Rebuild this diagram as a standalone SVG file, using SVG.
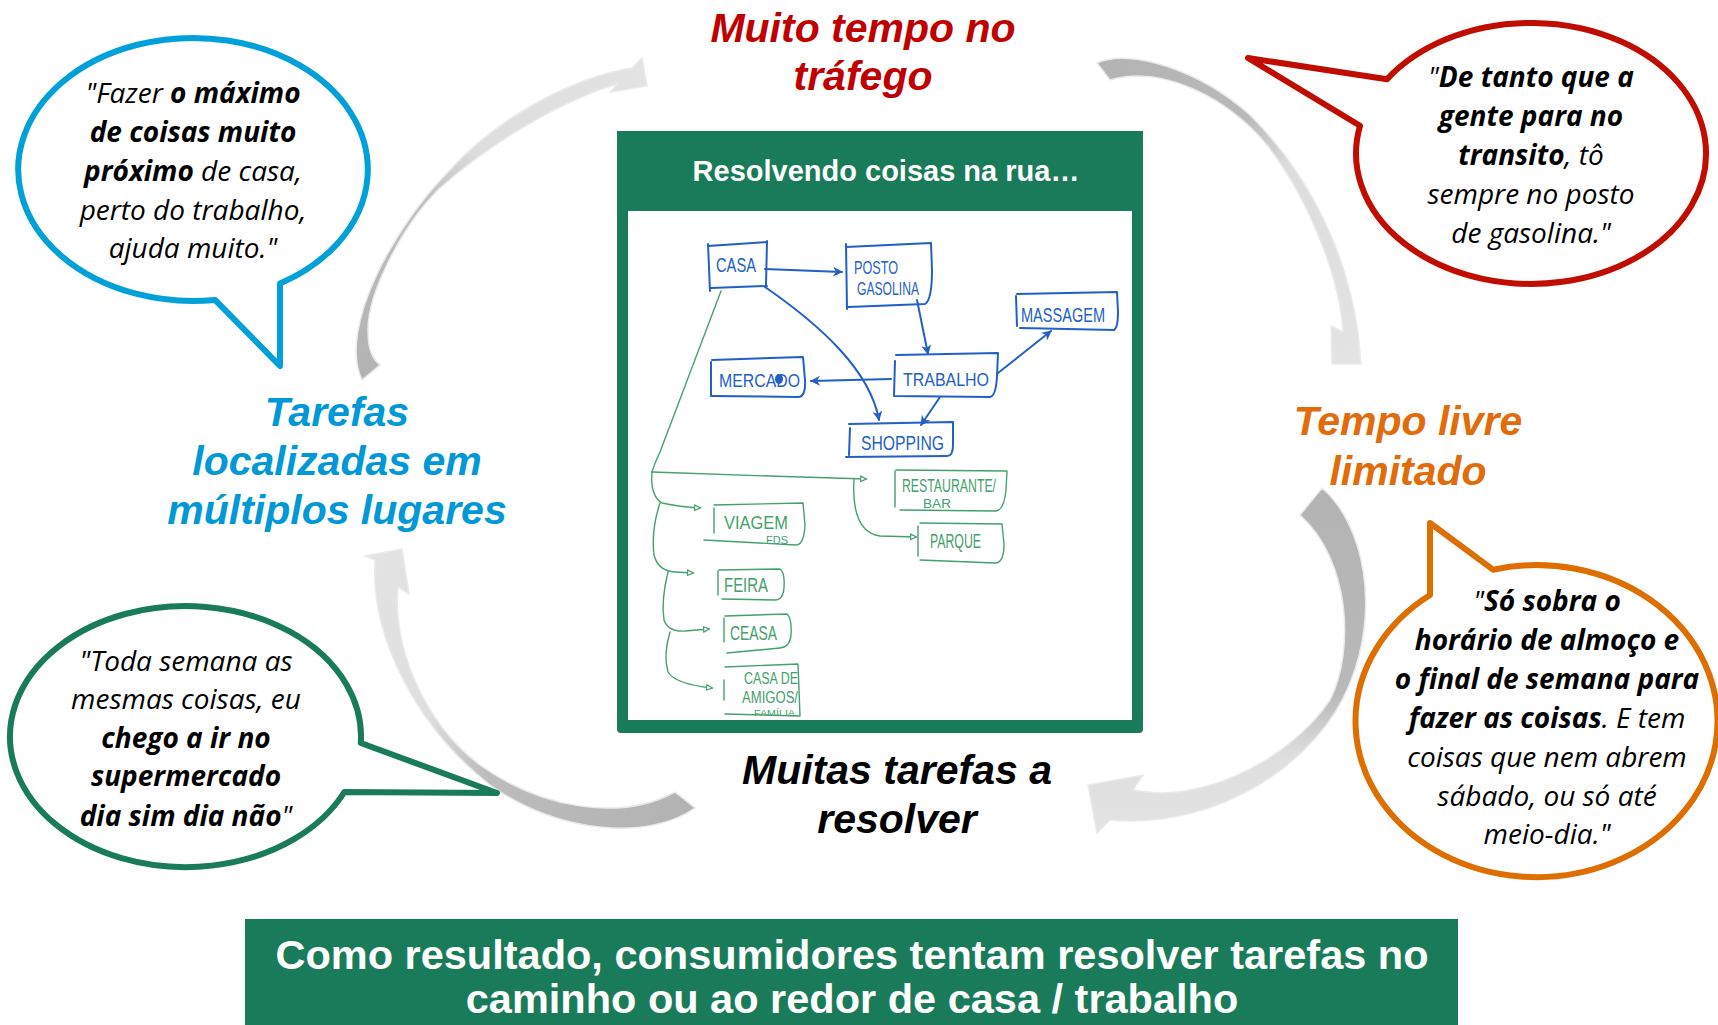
<svg xmlns="http://www.w3.org/2000/svg" width="1718" height="1025" viewBox="0 0 1718 1025">
<style>
.q{font-family:"Open Sans","Noto Sans","Liberation Sans",sans-serif;font-size:28px;font-style:italic;fill:#000;text-anchor:middle}
.b{font-weight:bold}
.lab{font-family:"Liberation Sans",Arial,sans-serif;font-size:41px;font-weight:bold;font-style:italic;text-anchor:middle}
.bub{fill:#fff;stroke-width:6;stroke-linejoin:round}
.sk{fill:none;stroke-linecap:round;stroke-linejoin:round}
.skb{stroke:#235FC8;stroke-width:2}
.skg{stroke:#46A06E;stroke-width:1.4}
.tb{font-family:"Liberation Sans",Arial,sans-serif;fill:#235FC8}
.tg{font-family:"Liberation Sans",Arial,sans-serif;fill:#46A06E}
.arr{stroke:#EAEAEA;stroke-width:1.5}
.ban{font-family:"Liberation Sans",Arial,sans-serif;font-weight:bold;fill:#fff;text-anchor:middle}
</style>
<defs>
<linearGradient id="g1" gradientUnits="userSpaceOnUse" x1="370" y1="380" x2="640" y2="60">
<stop offset="0" stop-color="#B3B3B3"/><stop offset="0.42" stop-color="#BEBEBE"/><stop offset="0.58" stop-color="#DDDDDD"/><stop offset="1" stop-color="#E3E3E3"/>
</linearGradient>
<linearGradient id="g2" gradientUnits="userSpaceOnUse" x1="1100" y1="60" x2="1350" y2="360">
<stop offset="0" stop-color="#B3B3B3"/><stop offset="0.35" stop-color="#B9B9B9"/><stop offset="0.52" stop-color="#DCDCDC"/><stop offset="1" stop-color="#E3E3E3"/>
</linearGradient>
<linearGradient id="g3" gradientUnits="userSpaceOnUse" x1="1330" y1="490" x2="1330" y2="830">
<stop offset="0" stop-color="#B3B3B3"/><stop offset="0.6" stop-color="#B9B9B9"/><stop offset="0.78" stop-color="#DEDEDE"/><stop offset="1" stop-color="#E3E3E3"/>
</linearGradient>
<linearGradient id="g4" gradientUnits="userSpaceOnUse" x1="690" y1="800" x2="370" y2="560">
<stop offset="0" stop-color="#B3B3B3"/><stop offset="0.45" stop-color="#BDBDBD"/><stop offset="0.65" stop-color="#DEDEDE"/><stop offset="1" stop-color="#E3E3E3"/>
</linearGradient>
<marker id="bh" viewBox="0 0 10 10" refX="9" refY="5" markerWidth="5" markerHeight="5" orient="auto">
<path d="M0,0 L10,5 L0,10 L3,5 Z" fill="#235FC8"/>
</marker>
<marker id="gh" viewBox="0 0 10 10" refX="8" refY="5" markerWidth="5.5" markerHeight="5.5" orient="auto">
<path d="M1,1.5 L8.5,5 L1,8.5 Z" fill="#fff" stroke="#46A06E" stroke-width="1.6"/>
</marker>
</defs>
<rect width="1718" height="1025" fill="#fff"/>

<g id="connectors">
<path id="arrow-top-left" class="arr" fill="url(#g1)" d="M362,380 C338,330 392,228 450,170 C495,120 570,78 632,68 L642,58 L647,86 L611,92 L617,84 C570,98 500,135 440,188 C405,222 368,290 368,330 C368,350 372,358 380,365 Z"/>
<path id="arrow-top-right" class="arr" fill="url(#g2)" d="M1097,63 C1130,48 1200,70 1250,115 C1300,165 1345,240 1358,333 L1361,364 L1332,364 L1331,326 L1343,332 C1340,280 1310,200 1267,145 C1225,95 1160,65 1110,80 Z"/>
<path id="arrow-right" class="arr" fill="url(#g3)" d="M1322,488 C1365,525 1380,610 1350,683 C1320,760 1220,830 1110,820 L1097,833 L1088,785 L1143,775 L1133,790 C1200,805 1290,760 1330,700 C1355,650 1350,560 1300,515 Z"/>
<path id="arrow-bottom-left" class="arr" fill="url(#g4)" d="M695,808 C650,840 560,835 490,785 C420,730 370,640 375,560 L365,556 L402,549 L409,594 L398,587 C392,640 420,720 480,765 C540,808 620,822 675,792 Z"/>
</g>

<g id="bubble-blue">
<path class="bub" stroke="#00A0D8" d="M280,283.5 A174.8,131.5 0 1 0 215,299.9 L280,366 Z"/>
<text class="q"><tspan x="193" y="103">"Fazer <tspan class="b">o máximo</tspan></tspan><tspan x="193" y="142" class="b">de coisas muito</tspan><tspan x="193" y="181"><tspan class="b">próximo</tspan> de casa,</tspan><tspan x="193" y="219.5">perto do trabalho,</tspan><tspan x="193" y="258">ajuda muito."</tspan></text>
</g>

<g id="bubble-red">
<path class="bub" stroke="#C00D00" d="M1387,79.3 A175,130.5 0 1 1 1360,125.8 L1248,58 Z"/>
<text class="q"><tspan x="1531" y="87">"<tspan class="b">De tanto que a</tspan></tspan><tspan x="1531" y="126" class="b">gente para no</tspan><tspan x="1531" y="165"><tspan class="b">transito</tspan>, tô</tspan><tspan x="1531" y="204">sempre no posto</tspan><tspan x="1531" y="242.5">de gasolina."</tspan></text>
</g>

<g id="bubble-green">
<path class="bub" stroke="#1A7B5A" d="M344.4,792 A175.5,130.5 0 1 1 360.8,743 L497,793 Z"/>
<text class="q"><tspan x="186" y="670.5">"Toda semana as</tspan><tspan x="186" y="709">mesmas coisas, eu</tspan><tspan x="186" y="747.5" class="b">chego a ir no</tspan><tspan x="186" y="786" class="b">supermercado</tspan><tspan x="186" y="825.5"><tspan class="b">dia sim dia não</tspan>"</tspan></text>
</g>

<g id="bubble-orange">
<path class="bub" stroke="#DF6E00" d="M1493,569.7 A181,156 0 1 1 1430,595 L1430,523 Z"/>
<text class="q"><tspan x="1547" y="611">"<tspan class="b">Só sobra o</tspan></tspan><tspan x="1547" y="650" class="b">horário de almoço e</tspan><tspan x="1547" y="689" class="b">o final de semana para</tspan><tspan x="1547" y="728"><tspan class="b">fazer as coisas</tspan>. E tem</tspan><tspan x="1547" y="767">coisas que nem abrem</tspan><tspan x="1547" y="805.5">sábado, ou só até</tspan><tspan x="1547" y="844">meio-dia."</tspan></text>
</g>

<g id="label-trafego">
<text class="lab" fill="#C00000"><tspan x="863" y="42">Muito tempo no</tspan><tspan x="863" y="90">tráfego</tspan></text>
</g>
<g id="label-tarefas">
<text class="lab" fill="#0098D6"><tspan x="337" y="426">Tarefas</tspan><tspan x="337" y="475">localizadas em</tspan><tspan x="337" y="524">múltiplos lugares</tspan></text>
</g>
<g id="label-tempo">
<text class="lab" fill="#E26B0A"><tspan x="1408" y="435">Tempo livre</tspan><tspan x="1408" y="485">limitado</tspan></text>
</g>
<g id="label-muitas">
<text class="lab" fill="#000"><tspan x="897" y="784">Muitas tarefas a</tspan><tspan x="897" y="833">resolver</tspan></text>
</g>

<g id="center-box">
<path d="M617,131 H1143 V729 Q1143,733 1139,733 H621 Q617,733 617,729 Z" fill="#1A7B5A"/>
<rect x="628" y="211" width="504" height="509" fill="#fff"/>
<text x="886" y="181" font-family="Liberation Sans, Arial, sans-serif" font-weight="bold" font-size="29" fill="#fff" text-anchor="middle">Resolvendo coisas na rua…</text>
</g>

<g id="sketch">
<g id="sketch-connectors" class="sk">
<path class="skb" d="M765,269 L842,272" marker-end="url(#bh)"/>
<path class="skb" d="M765,287 C820,325 870,370 879,420" marker-end="url(#bh)"/>
<path class="skb" d="M917,300 L928,354" marker-end="url(#bh)"/>
<path class="skb" d="M998,373 L1051,331" marker-end="url(#bh)"/>
<path class="skb" d="M891,379 L811,381" marker-end="url(#bh)"/>
<path class="skb" d="M940,397 L921,425" marker-end="url(#bh)"/>
<path class="skg" d="M721,291 L660,452 Q654,465 652,472"/>
<path class="skg" d="M652,472 C700,474 800,477 866,479" marker-end="url(#gh)"/>
<path class="skg" d="M854,479 Q851,532 880,536 L916,537" marker-end="url(#gh)"/>
<path class="skg" d="M652,472 Q650,496 662,503 Q680,507 700,508" marker-end="url(#gh)"/>
<path class="skg" d="M660,503 Q651,530 654,555 Q658,571 675,572 L693,573" marker-end="url(#gh)"/>
<path class="skg" d="M668,572 Q661,600 664,620 Q668,632 685,631 L709,629" marker-end="url(#gh)"/>
<path class="skg" d="M670,632 Q663,655 668,672 Q675,684 712,688" marker-end="url(#gh)"/>
</g>
<g id="node-casa"><path class="sk skb" d="M708,246 L767,242 M767,241 L766,285 M767,286 L711,288 M710,291 L708,244"/><text class="tb" x="716" y="272" font-size="20" textLength="40" lengthAdjust="spacingAndGlyphs">CASA</text></g>
<g id="node-posto"><path class="sk skb" d="M846,247 L931,243 L932,270 Q932,300 925,304 L848,307 M846,244 L847,309"/><text class="tb" x="854" y="274" font-size="18" textLength="44" lengthAdjust="spacingAndGlyphs">POSTO</text><text class="tb" x="857" y="295" font-size="18" textLength="62" lengthAdjust="spacingAndGlyphs">GASOLINA</text></g>
<g id="node-massagem"><path class="sk skb" d="M1017,294 L1117,292 L1118,312 Q1118,328 1114,330 L1020,328 M1016,296 L1017,326"/><text class="tb" x="1021" y="322" font-size="20" textLength="84" lengthAdjust="spacingAndGlyphs">MASSAGEM</text></g>
<g id="node-trabalho"><path class="sk skb" d="M896,355 L998,353 L997,376 Q996,396 990,397 L894,396 M895,361 L894,395"/><text class="tb" x="903" y="386" font-size="19" textLength="86" lengthAdjust="spacingAndGlyphs">TRABALHO</text></g>
<g id="node-mercado"><path class="sk skb" d="M712,360 L803,357 L805,380 Q806,397 798,397 L712,396 M711,362 L711,396"/><text class="tb" x="719" y="387" font-size="19" textLength="81" lengthAdjust="spacingAndGlyphs">MERCADO</text><ellipse cx="779" cy="379" rx="4" ry="5" fill="#235FC8"/></g>
<g id="node-shopping"><path class="sk skb" d="M849,424 L953,422 L953,445 Q953,456 947,456 L846,457 M850,428 L849,455"/><text class="tb" x="861" y="450" font-size="20" textLength="83" lengthAdjust="spacingAndGlyphs">SHOPPING</text></g>
<g id="node-restaurante"><path class="sk skg" d="M896,470 L1007,471 L1006,490 Q1004,510 996,511 L900,510 M895,471 L895,507"/><text class="tg" x="902" y="492" font-size="18" textLength="94" lengthAdjust="spacingAndGlyphs">RESTAURANTE/</text><text class="tg" x="923" y="507.5" font-size="12" textLength="28" lengthAdjust="spacingAndGlyphs">BAR</text></g>
<g id="node-parque"><path class="sk skg" d="M920,523 L1002,524 L1004,544 Q1004,563 995,563 L920,560 M918,526 L918,556"/><text class="tg" x="930" y="548" font-size="20" textLength="51" lengthAdjust="spacingAndGlyphs">PARQUE</text></g>
<g id="node-viagem"><path class="sk skg" d="M714,505 L803,503 L805,525 Q804,545 796,545 L704,540 M714,508 L714,533"/><text class="tg" x="724" y="529" font-size="18" textLength="64" lengthAdjust="spacingAndGlyphs">VIAGEM</text><text class="tg" x="766" y="544" font-size="11" textLength="22" lengthAdjust="spacingAndGlyphs">FDS</text></g>
<g id="node-feira"><path class="sk skg" d="M719,570 L780,569 Q785,572 784,588 Q783,600 775,600 L722,599 M718,571 L718,595"/><text class="tg" x="724" y="592" font-size="21" textLength="44" lengthAdjust="spacingAndGlyphs">FEIRA</text></g>
<g id="node-ceasa"><path class="sk skg" d="M725,616 L787,614 Q792,618 791,635 Q790,647 780,648 L727,653 M724,618 L724,642"/><text class="tg" x="730" y="640" font-size="21" textLength="47" lengthAdjust="spacingAndGlyphs">CEASA</text></g>
<g id="node-amigos"><path class="sk skg" d="M725,667 L798,664 L800,716 L725,714 M724,680 L724,700"/><text class="tg" x="744" y="684" font-size="16" textLength="54" lengthAdjust="spacingAndGlyphs">CASA DE</text><text class="tg" x="742" y="703" font-size="16" textLength="56" lengthAdjust="spacingAndGlyphs">AMIGOS/</text><text class="tg" x="754" y="715.5" font-size="9" textLength="41" lengthAdjust="spacingAndGlyphs">FAMÍLIA</text></g>
</g>

<g id="banner">
<rect x="245" y="919" width="1213" height="110" fill="#1A7B5A"/>
<text class="ban" font-size="41.5"><tspan x="852" y="969">Como resultado, consumidores tentam resolver tarefas no</tspan><tspan x="852" y="1013">caminho ou ao redor de casa / trabalho</tspan></text>
</g>
</svg>
